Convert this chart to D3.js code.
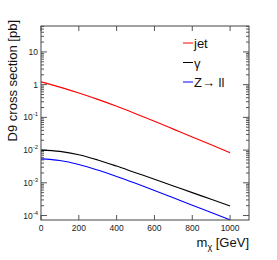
<!DOCTYPE html>
<html>
<head>
<meta charset="utf-8">
<script src="https://cdn.jsdelivr.net/npm/d3@7"></script>
<style>
  body { margin: 0; background: #fff; }
  svg { font-family: "Liberation Sans", Arial, sans-serif; }
</style>
</head>
<body>
<div id="chart"></div>
<script>
const masses = [0, 100, 200, 300, 400, 500, 600, 700, 800, 900, 1000];
const jetXsec = [1.216, 0.841, 0.556, 0.355, 0.219, 0.130, 0.0759, 0.0437, 0.0251, 0.0145, 0.00832];
const photonXsec = [0.0100, 0.00912, 0.00724, 0.00501, 0.00324, 0.00204, 0.00129, 0.000804, 0.000501, 0.000313, 0.000195];
const zllXsec = [0.00537, 0.00479, 0.00363, 0.00245, 0.00157, 0.000966, 0.000582, 0.000347, 0.000207, 0.000123, 0.0000733];
const xTicks = [0, 200, 400, 600, 800, 1000];
const yDecades = [-4, -3, -2, -1, 0, 1];

const series = [
    { name: "jet", color: "#ff0000", values: jetXsec },
    { name: "\u03b3", color: "#000000", values: photonXsec },
    { name: "Z\u2192 ll", color: "#0000ff", values: zllXsec }
];

const W = 277, H = 260;
const margin = { top: 26, right: 28, bottom: 40, left: 41 };
const width = W - margin.left - margin.right;
const height = H - margin.top - margin.bottom;

const svg = d3.select("#chart").append("svg")
    .attr("width", W)
    .attr("height", H);

const g = svg.append("g")
    .attr("transform", `translate(${margin.left},${margin.top})`);

const x = d3.scaleLinear().domain([0, 1100]).range([0, width]);
const y = d3.scaleLog().domain([7.3e-5, 62]).range([height, 0]);

// minor ticks for log axis
const minorTicks = [];
yDecades.forEach(e => {
    for (let k = 2; k <= 9; k++) {
        const v = k * Math.pow(10, e);
        if (v >= y.domain()[0] && v <= y.domain()[1]) minorTicks.push(v);
    }
});
const majorTicks = yDecades.map(e => Math.pow(10, e));

const tickCol = "#555";

// left & right ticks
[0, width].forEach(xx => {
    const dir = xx === 0 ? 1 : -1;
    g.selectAll(null)
        .data(minorTicks)
        .enter().append("line")
        .attr("x1", xx).attr("x2", xx + dir * 3)
        .attr("y1", d => y(d)).attr("y2", d => y(d))
        .attr("stroke", tickCol).attr("stroke-width", 1);
    g.selectAll(null)
        .data(majorTicks)
        .enter().append("line")
        .attr("x1", xx).attr("x2", xx + dir * 6)
        .attr("y1", d => y(d)).attr("y2", d => y(d))
        .attr("stroke", tickCol).attr("stroke-width", 1);
});

// top & bottom x ticks
[0, height].forEach(yy => {
    const dir = yy === 0 ? 1 : -1;
    g.selectAll(null)
        .data(xTicks)
        .enter().append("line")
        .attr("x1", d => x(d)).attr("x2", d => x(d))
        .attr("y1", yy).attr("y2", yy + dir * 5)
        .attr("stroke", tickCol).attr("stroke-width", 1);
});

// y labels
const yLab = g.selectAll(".ylab")
    .data(yDecades)
    .enter().append("text")
    .attr("class", "ylab")
    .attr("x", -3)
    .attr("y", d => y(Math.pow(10, d)) + 3)
    .attr("text-anchor", "end")
    .attr("font-size", 8.5)
    .attr("fill", "#222");
yLab.each(function(d) {
    const t = d3.select(this);
    if (d === 0) t.text("1");
    else if (d === 1) t.text("10");
    else {
        t.append("tspan").text("10");
        t.append("tspan").attr("dy", -4).attr("font-size", 6).text(d);
    }
});

// x labels
g.selectAll(".xlab")
    .data(xTicks)
    .enter().append("text")
    .attr("class", "xlab")
    .attr("x", d => x(d))
    .attr("y", height + 11)
    .attr("text-anchor", "middle")
    .attr("font-size", 8.5)
    .attr("fill", "#222")
    .text(d => d);

// curves
const line = d3.line()
    .x((d, i) => x(masses[i]))
    .y(d => y(d))
    .curve(d3.curveMonotoneX);

series.forEach(s => {
    g.append("path")
        .datum(s.values)
        .attr("fill", "none")
        .attr("stroke", s.color)
        .attr("stroke-width", 1.1)
        .attr("d", line);
});

// frame
g.append("rect")
    .attr("width", width).attr("height", height)
    .attr("fill", "none")
    .attr("stroke", "#444")
    .attr("stroke-width", 1);

// legend
const legend = svg.append("g").attr("transform", "translate(183,43)");
series.forEach((s, i) => {
    const row = legend.append("g").attr("transform", `translate(0,${i * 19.5})`);
    row.append("line")
        .attr("x1", 0).attr("x2", 10)
        .attr("y1", 0).attr("y2", 0)
        .attr("stroke", s.color).attr("stroke-width", 1);
    row.append("text")
        .attr("x", 11).attr("y", 5)
        .attr("font-size", 13)
        .attr("fill", "#111")
        .text(s.name);
});

// axis titles
svg.append("text")
    .attr("transform", "translate(17,20) rotate(-90)")
    .attr("text-anchor", "end")
    .attr("font-size", 13)
    .attr("fill", "#111")
    .text("D9 cross section [pb]");

const xt = svg.append("text")
    .attr("x", margin.left + width)
    .attr("y", 247)
    .attr("text-anchor", "end")
    .attr("font-size", 13)
    .attr("fill", "#111");
xt.append("tspan").text("m");
xt.append("tspan").attr("dy", 3).attr("font-size", 9).text("\u03c7");
xt.append("tspan").attr("dy", -3).text(" [GeV]");
</script>
</body>
</html>
